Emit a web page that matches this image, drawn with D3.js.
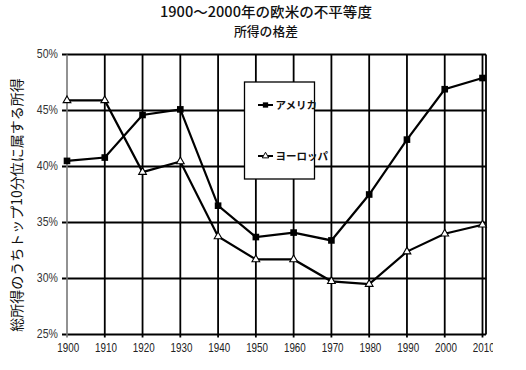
<!DOCTYPE html>
<html><head><meta charset="utf-8">
<script src="https://cdn.jsdelivr.net/npm/d3@7/dist/d3.min.js"></script>
<style>body{margin:0;background:#fff;}svg{display:block;}</style>
</head><body>
<script>
const years = [1900,1910,1920,1930,1940,1950,1960,1970,1980,1990,2000,2010];
const america = [40.5,40.8,44.6,45.1,36.5,33.7,34.1,33.4,37.5,42.4,46.9,47.9];
const europe  = [45.9,45.9,39.5,40.45,33.75,31.7,31.7,29.75,29.5,32.4,34.0,34.8];
const yTicks = [25,30,35,40,45,50];
const seriesNames = ["アメリカ","ヨーロッパ"];
const titleLines = ["1900〜2000年の欧米の不平等度","所得の格差"];
const yLabel = "総所得のうちトップ10分位に属する所得";

const W=526,H=370;
const svg=d3.select("body").append("svg").attr("width",W).attr("height",H);
const x=d3.scaleLinear().domain([1900,2010]).range([67,482.5]);
const y=d3.scaleLinear().domain([25,50]).range([334.5,54.5]);
const plotRight=486;
const jp="'Noto Sans CJK JP'";

svg.append("defs").append("clipPath").attr("id","clipR").append("rect")
  .attr("x",0).attr("y",0).attr("width",493).attr("height",H);

// titles
svg.append("text").attr("x",266).attr("y",17).attr("text-anchor","middle")
  .attr("textLength",212).attr("lengthAdjust","spacingAndGlyphs")
  .style("font-family",jp).style("font-size","14px").style("font-weight","500").attr("fill","#111").text(titleLines[0]);
svg.append("text").attr("x",266).attr("y",35.6).attr("text-anchor","middle")
  .style("font-family",jp).style("font-size","12.8px").style("font-weight","500").attr("fill","#111").text(titleLines[1]);

// y label, fitted to the reference span
const yl=svg.append("text").attr("transform","translate(22,205) rotate(-90)").attr("text-anchor","middle")
  .style("font-family",jp).style("font-size","14px").attr("fill","#111").text(yLabel);
let fs=14, len=yl.node().getComputedTextLength();
if(len>0 && Math.abs(len-252)>2){ fs=Math.max(11,Math.min(15,14*252/len)); yl.style("font-size",fs+"px"); }

const g=svg.append("g");
g.selectAll("line.h").data(yTicks).join("line")
  .attr("x1",62).attr("x2",plotRight).attr("y1",d=>y(d)).attr("y2",d=>y(d))
  .attr("stroke","#000").attr("stroke-width",d=>d===25?2.2:1.8);
g.selectAll("line.v").data(years.slice(1)).join("line")
  .attr("x1",d=>x(d)).attr("x2",d=>x(d)).attr("y1",y(50)).attr("y2",y(25)+3)
  .attr("stroke","#000").attr("stroke-width",1.8);
g.append("line").attr("x1",x(1900)).attr("x2",x(1900)).attr("y1",y(50)).attr("y2",y(25)+3)
  .attr("stroke","#777").attr("stroke-width",1.6);
g.append("line").attr("x1",plotRight).attr("x2",plotRight).attr("y1",y(50)).attr("y2",y(25))
  .attr("stroke","#000").attr("stroke-width",1.8);

svg.selectAll("text.yt").data(yTicks).join("text")
  .attr("x",58).attr("y",d=>y(d)+4).attr("text-anchor","end")
  .style("font-family","'Liberation Sans',Arial").style("font-size","12px").attr("fill","#333")
  .attr("transform",`translate(58,0) scale(0.88,1) translate(-58,0)`)
  .text(d=>d+"%");
svg.append("g").attr("clip-path","url(#clipR)").selectAll("text.xt").data(years).join("text")
  .attr("x",d=>x(d)+1.5).attr("y",352).attr("text-anchor","middle")
  .style("font-family","'Liberation Sans',Arial").style("font-size","12px").attr("fill","#222")
  .attr("transform",d=>`translate(${x(d)},0) scale(0.82,1) translate(${-x(d)},0)`)
  .text(d=>d);

svg.append("rect").attr("x",244.5).attr("y",82).attr("width",70).attr("height",97)
  .attr("fill","#fff").attr("stroke","#000").attr("stroke-width",1.3);

const line=d3.line().x((d,i)=>x(years[i])).y(d=>y(d));
svg.append("path").datum(america).attr("d",line).attr("fill","none").attr("stroke","#000").attr("stroke-width",2.2);
svg.append("path").datum(europe).attr("d",line).attr("fill","none").attr("stroke","#000").attr("stroke-width",2.2);

const sq=d3.symbol().type(d3.symbolSquare).size(44);
const tri=d3.symbol().type(d3.symbolTriangle).size(26);
svg.selectAll("path.sq").data(america).join("path")
  .attr("transform",(d,i)=>`translate(${x(years[i])},${y(d)})`).attr("d",sq).attr("fill","#000");
svg.selectAll("path.tr").data(europe).join("path")
  .attr("transform",(d,i)=>`translate(${x(years[i])},${y(d)})`).attr("d",tri)
  .attr("fill","#fff").attr("stroke","#000").attr("stroke-width",1.1);

const leg=[{n:seriesNames[0],yy:105,t:"sq"},{n:seriesNames[1],yy:156,t:"tr"}];
leg.forEach(l=>{
  svg.append("line").attr("x1",258).attr("x2",273).attr("y1",l.yy).attr("y2",l.yy).attr("stroke","#000").attr("stroke-width",2);
  if(l.t==="sq") svg.append("path").attr("transform",`translate(265.5,${l.yy})`).attr("d",d3.symbol().type(d3.symbolSquare).size(28)).attr("fill","#000");
  else svg.append("path").attr("transform",`translate(265.5,${l.yy})`).attr("d",d3.symbol().type(d3.symbolTriangle).size(18)).attr("fill","#fff").attr("stroke","#000").attr("stroke-width",1);
  svg.append("text").attr("x",275.5).attr("y",l.yy+4).style("font-family",jp).style("font-size","10.5px").style("font-weight","600").attr("fill","#111").text(l.n);
});
</script>
</body></html>
